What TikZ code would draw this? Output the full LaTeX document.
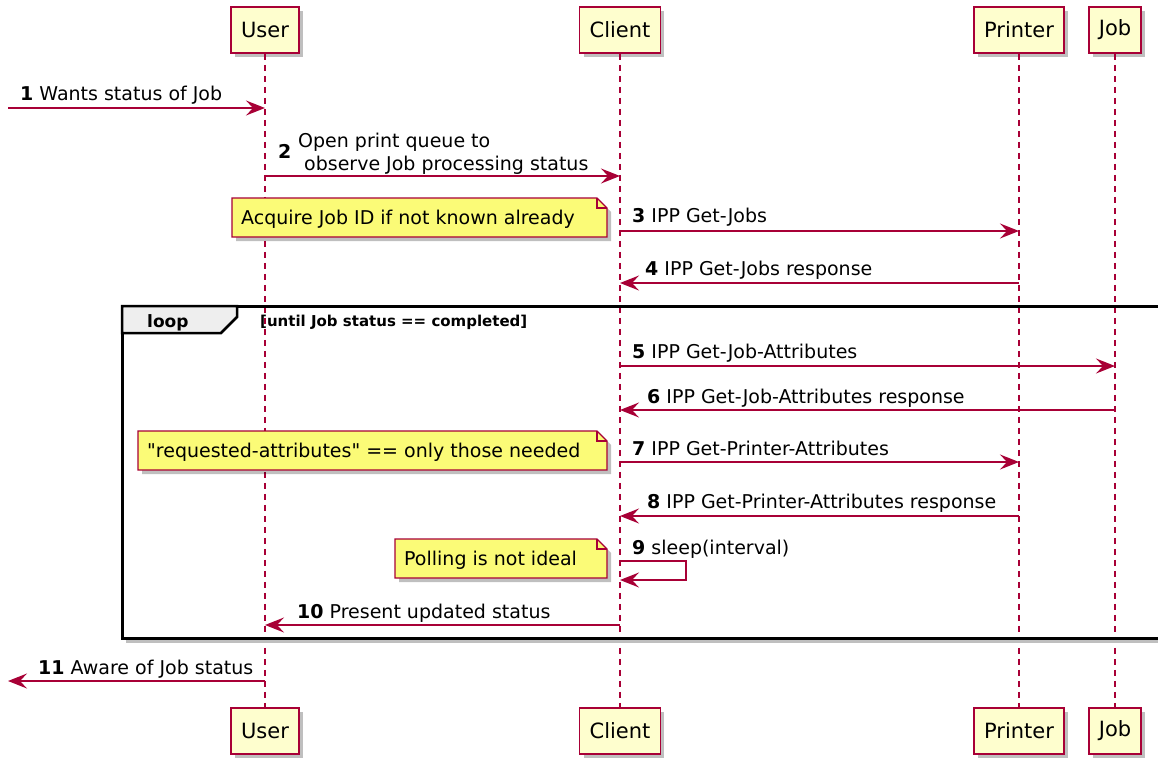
\documentclass[tikz,border=0pt]{standalone}
\usepackage{fontspec}
\setmainfont{DejaVu Sans}
\usetikzlibrary{arrows.meta,shadows}
\newcommand\straightquote{\XeTeXglyph\XeTeXcharglyph"22\relax}
\definecolor{pu}{HTML}{A80036}
\definecolor{partfill}{HTML}{FEFECE}
\definecolor{notefill}{HTML}{FBFB77}
\definecolor{tabfill}{HTML}{EEEEEE}
\tikzset{
  pshadow/.style={drop shadow={shadow xshift=4pt,shadow yshift=-4pt,opacity=0.25,fill=black}},
  part/.style={draw=pu, fill=partfill, line width=1.6pt, minimum height=46pt,
    inner xsep=10pt, font=\fontsize{21}{25}\selectfont, pshadow},
  lifeline/.style={draw=pu, line width=1.2pt, dash pattern=on 6pt off 5pt},
  msg/.style={draw=pu, line width=1.5pt, -{Stealth[length=19pt,width=15pt,inset=7pt]}},
  lbl/.style={inner sep=0pt, anchor=base west, font=\fontsize{19}{23}\selectfont},
  notebox/.style={draw=pu, fill=notefill, line width=1.4pt, pshadow},
  notefold/.style={draw=pu, line width=1.4pt},
  frameline/.style={draw=black, line width=3pt},
  condlbl/.style={inner sep=0pt, anchor=base west, font=\fontsize{15}{18}\selectfont\bfseries},
}
\begin{document}
\begin{tikzpicture}[x=1pt,y=-1pt]
\useasboundingbox (0,0) rectangle (1158,757);
\clip (0,0) rectangle (1158,757);
\fill[white] (0,0) rectangle (1158,757);

% participants
\node[part] (UserTop) at (265,30) {User};
\node[part] (ClientTop) at (620,30) {Client};
\node[part] (PrinterTop) at (1019,30) {Printer};
\node[part] (JobTop) at (1115,30) {Job};
\node[part] (UserBot) at (265,731) {User};
\node[part] (ClientBot) at (620,731) {Client};
\node[part] (PrinterBot) at (1019,731) {Printer};
\node[part] (JobBot) at (1115,731) {Job};

% lifelines
\draw[lifeline] (UserTop.south) -- (UserBot.north);
\draw[lifeline] (ClientTop.south) -- (ClientBot.north);
\draw[lifeline] (PrinterTop.south) -- (PrinterBot.north);
\draw[lifeline] (JobTop.south) -- (JobBot.north);

% loop frame
\draw[black!25, line width=3pt] (126,641) -- (1175,641);
\draw[frameline] (1175,306) -- (122,306) -- (122,638) -- (1175,638);
\filldraw[fill=tabfill, draw=black, line width=2.5pt] (122,306) -- (237,306) -- (237,317) -- (221,333) -- (122,333) -- cycle;
\node[condlbl, font=\fontsize{17}{20}\selectfont\bfseries] (looplbl) at (147,327) {loop};
\node[condlbl] (cond) at (260,326) {[until Job status == completed]};

% notes
\filldraw[notebox] (232,198) -- (597,198) -- (607,208) -- (607,237) -- (232,237) -- cycle;
\draw[notefold] (597,198) -- (597,208) -- (607,208);
\node[lbl] (note1) at (241,224) {Acquire Job ID if not known already};

\filldraw[notebox] (138,431) -- (597,431) -- (607,441) -- (607,470) -- (138,470) -- cycle;
\draw[notefold] (597,431) -- (597,441) -- (607,441);
\node[lbl] (note2) at (147,457) {\straightquote requested-attributes\straightquote{} == only those needed};

\filldraw[notebox] (395,539) -- (597,539) -- (607,549) -- (607,578) -- (395,578) -- cycle;
\draw[notefold] (597,539) -- (597,549) -- (607,549);
\node[lbl] (note3) at (404,565) {Polling is not ideal};

% message end points
\coordinate (m1a) at (8,108);
\coordinate (m1b) at (UserTop |- 0,108);
\coordinate (m2a) at (UserTop |- 0,176);
\coordinate (m2b) at (ClientTop |- 0,176);
\coordinate (m3a) at (ClientTop |- 0,231);
\coordinate (m3b) at (PrinterTop |- 0,231);
\coordinate (m4a) at (PrinterTop |- 0,283);
\coordinate (m4b) at (ClientTop |- 0,283);
\coordinate (m5a) at (ClientTop |- 0,366);
\coordinate (m5b) at (JobTop |- 0,366);
\coordinate (m6a) at (JobTop |- 0,410);
\coordinate (m6b) at (ClientTop |- 0,410);
\coordinate (m7a) at (ClientTop |- 0,462);
\coordinate (m7b) at (PrinterTop |- 0,462);
\coordinate (m8a) at (PrinterTop |- 0,516);
\coordinate (m8b) at (ClientTop |- 0,516);
\coordinate (m9a) at (ClientTop |- 0,561);
\coordinate (m9b) at (ClientTop |- 0,580);
\coordinate (m10a) at (ClientTop |- 0,625);
\coordinate (m10b) at (UserTop |- 0,625);
\coordinate (m11a) at (UserTop |- 0,681);
\coordinate (m11b) at (8,681);

% messages
\draw[msg] (m1a) -- (m1b);
\draw[msg] (m2a) -- (m2b);
\draw[msg] (m3a) -- (m3b);
\draw[msg] (m4a) -- (m4b);
\draw[msg] (m5a) -- (m5b);
\draw[msg] (m6a) -- (m6b);
\draw[msg] (m7a) -- (m7b);
\draw[msg] (m8a) -- (m8b);
\draw[msg] (m9a) -- ++(66,0) -- ++(0,19) -- (m9b);
\draw[msg] (m10a) -- (m10b);
\draw[msg] (m11a) -- (m11b);

% labels
\node[lbl] (t1) at (20,101) {\textbf{1} Wants status of Job};
\node[lbl] (t2n) at (278,158) {\textbf{2}};
\node[lbl] (t2a) at (298,147) {Open print queue to};
\node[lbl] (t2b) at (304,170) {observe Job processing status};
\node[lbl] (t3) at (632,222) {\textbf{3} IPP Get-Jobs};
\node[lbl] (t4) at (645,275) {\textbf{4} IPP Get-Jobs response};
\node[lbl] (t5) at (632,358) {\textbf{5} IPP Get-Job-Attributes};
\node[lbl] (t6) at (647,403) {\textbf{6} IPP Get-Job-Attributes response};
\node[lbl] (t7) at (632,455) {\textbf{7} IPP Get-Printer-Attributes};
\node[lbl] (t8) at (647,508) {\textbf{8} IPP Get-Printer-Attributes response};
\node[lbl] (t9) at (632,554) {\textbf{9} sleep(interval)};
\node[lbl] (t10) at (297,618) {\textbf{10} Present updated status};
\node[lbl] (t11) at (38,674) {\textbf{11} Aware of Job status};
\end{tikzpicture}
\end{document}
